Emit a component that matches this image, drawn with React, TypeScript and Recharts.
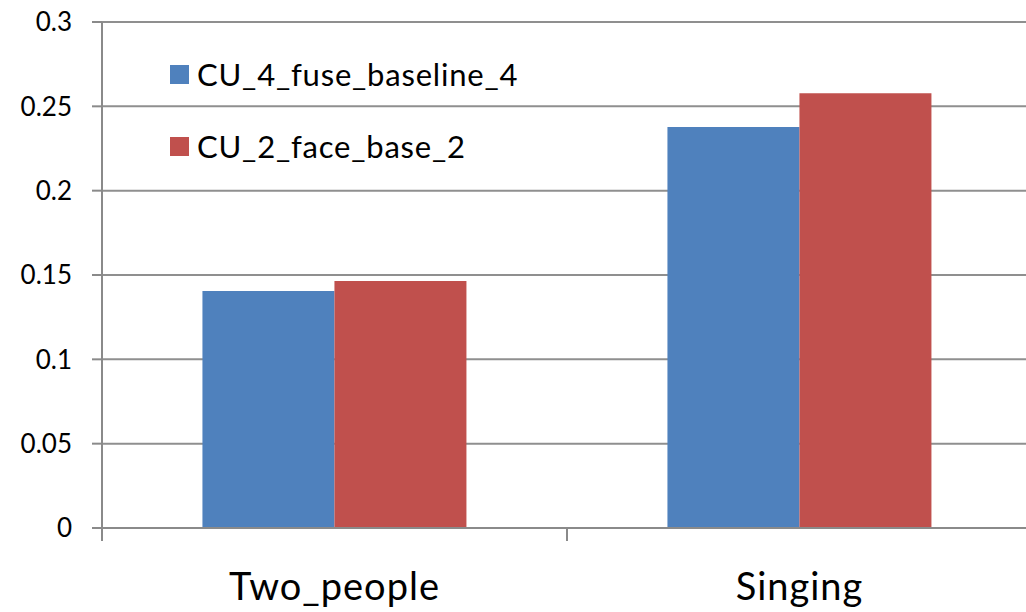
import { Bar, BarChart, CartesianGrid, XAxis, YAxis } from 'recharts'

const categories = ['Two_people', 'Singing']
const fuseBaseline = [0.1405, 0.2378]
const faceBase = [0.1465, 0.2578]
const yTicks = [0, 0.05, 0.1, 0.15, 0.2, 0.25, 0.3]

const seriesNames = ['CU_4_fuse_baseline_4', 'CU_2_face_base_2']
const colors = ['#4F81BD', '#C0504D']

const data = categories.map((name, i) => ({
  name,
  fuse: fuseBaseline[i],
  face: faceBase[i],
}))

const FONT = 'Lato, "Open Sans", sans-serif'
const CHART_W = 1040
const CHART_H = 612
const Y_W = 102
const RIGHT = 8
const bandWidth = (CHART_W - Y_W - RIGHT) / categories.length

const XTick = (props: any) => {
  const { x, y, payload } = props
  const edge = x - bandWidth / 2
  return (
    <g>
      <line x1={edge} y1={y - 8} x2={edge} y2={y + 5} stroke="#8a8a8a" strokeWidth={2} />
      <text
        x={x}
        y={y + 64}
        textAnchor="middle"
        fontSize={38}
        letterSpacing={1}
        fontFamily={FONT}
        fill="#000"
      >
        {payload.value}
      </text>
    </g>
  )
}

// legend sits inside the plot, so keep it out of recharts' layout
const LegendBox = () => (
  <div
    style={{
      position: 'absolute',
      left: 170,
      top: 38,
      fontFamily: FONT,
      fontSize: 31,
      letterSpacing: 0.8,
      color: '#000',
    }}
  >
    {seriesNames.map((s, i) => (
      <div key={s} style={{ display: 'flex', alignItems: 'center', height: 72 }}>
        <span
          style={{ display: 'inline-block', width: 19, height: 19, background: colors[i], marginRight: 8 }}
        />
        {s}
      </div>
    ))}
  </div>
)

export default function App() {
  return (
    <div style={{ position: 'absolute', left: 0, top: 0, width: 1026, height: 612, overflow: 'hidden', background: '#fff' }}>
      <BarChart
        width={CHART_W}
        height={CHART_H}
        data={data}
        margin={{ top: 22, right: RIGHT, bottom: 0, left: 0 }}
        barCategoryGap="21.6%"
        barGap={0}
      >
        <CartesianGrid vertical={false} stroke="#8f8f8f" strokeWidth={2} />
        <XAxis
          dataKey="name"
          height={84}
          tick={<XTick />}
          tickLine={false}
          axisLine={{ stroke: '#8a8a8a', strokeWidth: 2 }}
          interval={0}
        />
        <YAxis
          width={Y_W}
          domain={[0, 0.3]}
          ticks={yTicks}
          tickSize={10}
          tickMargin={20}
          tickLine={{ stroke: '#8a8a8a', strokeWidth: 2 }}
          axisLine={{ stroke: '#8a8a8a', strokeWidth: 2 }}
          tick={{ fontSize: 26, fontFamily: FONT, fill: '#000' }}
        />
        <Bar dataKey="fuse" name={seriesNames[0]} fill={colors[0]} isAnimationActive={false} />
        <Bar dataKey="face" name={seriesNames[1]} fill={colors[1]} isAnimationActive={false} />
      </BarChart>
      <LegendBox />
    </div>
  )
}
